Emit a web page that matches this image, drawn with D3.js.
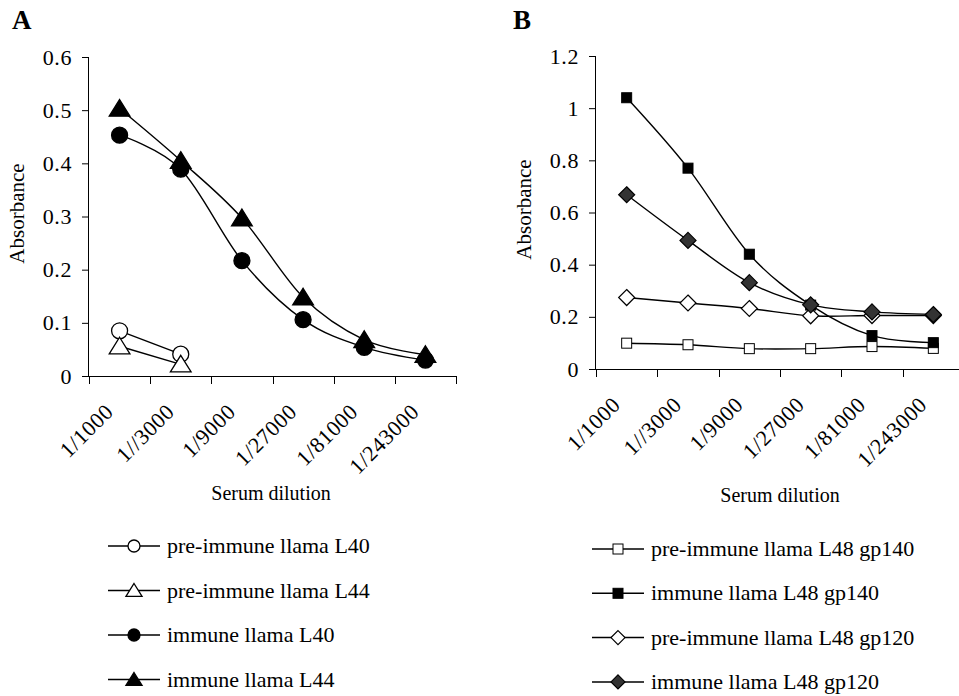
<!DOCTYPE html>
<html>
<head>
<meta charset="utf-8">
<script src="https://cdn.jsdelivr.net/npm/d3@7"></script>
<style>
  body { margin: 0; background: #fff; }
  text { font-family: "Liberation Serif", "Times New Roman", serif; fill: #000; }
</style>
</head>
<body>
<div id="chart"></div>
<script>
// Dilution categories (shared by both panels)
const dilutions = ["1/1000", "1//3000", "1/9000", "1/27000", "1/81000", "1/243000"];

// Panel A series
const preL40 = [0.085, 0.041];
const preL44 = [0.056, 0.022];
const immL40 = [0.453, 0.389, 0.217, 0.106, 0.054, 0.030];
const immL44 = [0.503, 0.405, 0.297, 0.148, 0.068, 0.040];
const ticksA = [0, 0.1, 0.2, 0.3, 0.4, 0.5, 0.6];

// Panel B series
const preGp140 = [0.099, 0.093, 0.078, 0.078, 0.086, 0.079];
const immGp140 = [1.04, 0.77, 0.44, 0.245, 0.128, 0.101];
const preGp120 = [0.274, 0.253, 0.232, 0.204, 0.205, 0.205];
const immGp120 = [0.668, 0.493, 0.331, 0.246, 0.219, 0.209];
const ticksB = [0, 0.2, 0.4, 0.6, 0.8, 1, 1.2];

const width = 959;
const height = 696;

const svg = d3.select("#chart").append("svg")
    .attr("width", width)
    .attr("height", height);

// draws one marker shape centered at 0,0
function marker(g, shape, fill, size) {
    if (shape === "circle") {
        g.append("circle").attr("r", size).attr("fill", fill).attr("stroke", "#000").attr("stroke-width", 1.3);
    } else if (shape === "triangle") {
        const s = size;
        g.append("path")
            .attr("d", `M0,${-s}L${s * 1.15},${s * 0.85}L${-s * 1.15},${s * 0.85}Z`)
            .attr("fill", fill).attr("stroke", "#000").attr("stroke-width", 1.3);
    } else if (shape === "square") {
        g.append("rect").attr("x", -size).attr("y", -size)
            .attr("width", size * 2).attr("height", size * 2)
            .attr("fill", fill).attr("stroke", "#000").attr("stroke-width", 1);
    } else if (shape === "diamond") {
        const s = size;
        g.append("path")
            .attr("d", `M0,${-s}L${s},0L0,${s}L${-s},0Z`)
            .attr("fill", fill).attr("stroke", "#000").attr("stroke-width", 1.2);
    }
}

function drawPanel(p) {
    const x = d3.scaleBand().domain(dilutions).range([p.x0, p.x1]);
    const y = d3.scaleLinear().domain([0, p.yMax]).range([p.y0, p.y1]);
    const g = svg.append("g");

    // panel letter
    g.append("text").attr("x", p.letterX).attr("y", 29)
        .attr("font-size", 27).attr("font-weight", "bold").text(p.letter);

    // y axis
    const yAxis = g.append("g").attr("transform", `translate(${p.x0},0)`)
        .call(d3.axisLeft(y).tickValues(p.ticks).tickSize(7).tickPadding(10).tickFormat(d => d));
    yAxis.select(".domain").attr("d", `M-0.5,${p.y0}V${p.y1}`);
    yAxis.selectAll("text").attr("font-size", 22).attr("letter-spacing", 0.6);

    // x axis, ticks on category boundaries
    const xg = g.append("g");
    xg.append("line").attr("x1", p.x0).attr("x2", p.x1).attr("y1", p.y0 + 0.5).attr("y2", p.y0 + 0.5)
        .attr("stroke", "#000");
    const bounds = dilutions.map(d => x(d)).concat([p.x1]);
    xg.selectAll(".tk").data(bounds).join("line")
        .attr("x1", d => Math.round(d) + 0.5).attr("x2", d => Math.round(d) + 0.5)
        .attr("y1", p.y0).attr("y2", p.y0 + 8).attr("stroke", "#000");
    xg.selectAll(".lbl").data(dilutions).join("text")
        .attr("transform", d => `translate(${x(d) + x.bandwidth() / 2 - 5},${p.y0 + 37}) rotate(-45)`)
        .attr("text-anchor", "end")
        .attr("font-size", 22)
        .attr("letter-spacing", 0.6)
        .text(d => d);

    // axis titles
    g.append("text")
        .attr("transform", `translate(${p.x0 - 65},${(p.y0 + p.y1) / 2 - 3}) rotate(-90)`)
        .attr("text-anchor", "middle").attr("font-size", 21).text("Absorbance");
    g.append("text").attr("x", p.titleX).attr("y", p.titleY)
        .attr("text-anchor", "middle").attr("font-size", 20).text("Serum dilution");

    const cx = i => x(dilutions[i]) + x.bandwidth() / 2;
    const line = d3.line().x((d, i) => cx(i)).y(d => y(d)).curve(d3.curveCardinal.tension(0));

    p.series.forEach(s => {
        g.append("path").datum(s.values)
            .attr("d", line).attr("fill", "none").attr("stroke", "#000").attr("stroke-width", 1.4);
    });
    p.series.forEach(s => {
        s.values.forEach((v, i) => {
            const m = g.append("g").attr("transform", `translate(${cx(i)},${y(v)})`);
            marker(m, s.shape, s.fill, s.size);
        });
    });

    // legend
    p.series.forEach((s, i) => {
        const ly = p.legY + i * p.legStep;
        const lg = g.append("g").attr("transform", `translate(${p.legX},${ly})`);
        lg.append("line").attr("x1", 0).attr("x2", 52).attr("y1", 0).attr("y2", 0)
            .attr("stroke", "#000").attr("stroke-width", 1.5);
        const m = lg.append("g").attr("transform", "translate(26,0)");
        marker(m, s.shape, s.fill, s.legSize);
        lg.append("text").attr("x", 59).attr("y", 7).attr("font-size", 22).text(s.name);
    });
}

drawPanel({
    letter: "A", letterX: 12,
    x0: 89, x1: 456, y0: 376, y1: 57, yMax: 0.6, ticks: ticksA,
    titleX: 271, titleY: 500,
    legX: 108, legY: 546, legStep: 44.5,
    series: [
        { name: "pre-immune llama L40", values: preL40, shape: "circle", fill: "#fff", size: 8, legSize: 6 },
        { name: "pre-immune llama L44", values: preL44, shape: "triangle", fill: "#fff", size: 9, legSize: 7 },
        { name: "immune llama L40", values: immL40, shape: "circle", fill: "#000", size: 8, legSize: 6 },
        { name: "immune llama L44", values: immL44, shape: "triangle", fill: "#000", size: 9, legSize: 7 }
    ]
});

drawPanel({
    letter: "B", letterX: 513,
    x0: 596, x1: 964, y0: 369, y1: 56, yMax: 1.2, ticks: ticksB,
    titleX: 780, titleY: 502,
    legX: 592, legY: 549, legStep: 44.3,
    series: [
        { name: "pre-immune llama L48 gp140", values: preGp140, shape: "square", fill: "#fff", size: 5, legSize: 5 },
        { name: "immune llama L48 gp140", values: immGp140, shape: "square", fill: "#000", size: 5, legSize: 5 },
        { name: "pre-immune llama L48 gp120", values: preGp120, shape: "diamond", fill: "#fff", size: 8, legSize: 7 },
        { name: "immune llama L48 gp120", values: immGp120, shape: "diamond", fill: "#333", size: 8, legSize: 7 }
    ]
});
</script>
</body>
</html>
